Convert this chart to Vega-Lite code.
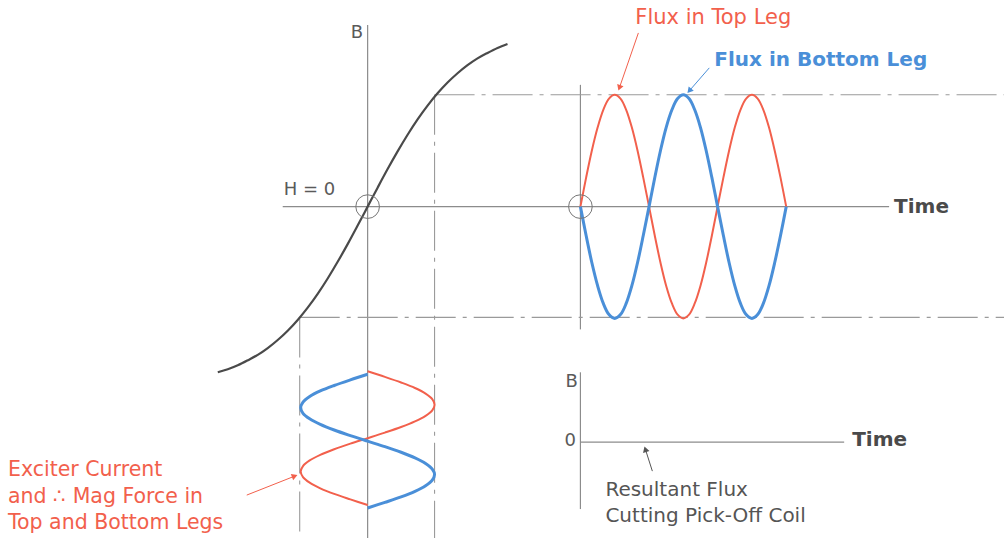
{
  "$schema": "https://vega.github.io/schema/vega-lite/v6.json",
  "width": 1005,
  "height": 539,
  "autosize": {"type": "fit", "contains": "padding"},
  "padding": 0,
  "background": "white",
  "config": {"view": {"stroke": null}},
  "datasets": {
    "segments": [
      {"k": "solid", "x": 368, "y": 25, "x2": 368, "y2": 539},
      {"k": "solid", "x": 283, "y": 207, "x2": 890, "y2": 207},
      {"k": "solid", "x": 581, "y": 85, "x2": 581, "y2": 330},
      {"k": "solid", "x": 581, "y": 373, "x2": 581, "y2": 510},
      {"k": "solid", "x": 581, "y": 443, "x2": 845, "y2": 443},
      {"k": "dash", "x": 435, "y": 95, "x2": 1005, "y2": 95},
      {"k": "dash", "x": 300, "y": 318, "x2": 1005, "y2": 318},
      {"k": "dash", "x": 300, "y": 318, "x2": 300, "y2": 539},
      {"k": "dash", "x": 435, "y": 95, "x2": 435, "y2": 539}
    ],
    "curve": [
      {"x": 218, "y": 373}, {"x": 228, "y": 370}, {"x": 238, "y": 366}, {"x": 248, "y": 361},
      {"x": 258, "y": 355.5}, {"x": 268, "y": 348.7}, {"x": 278, "y": 340.6}, {"x": 288, "y": 331.3},
      {"x": 298, "y": 320.5}, {"x": 308, "y": 308.2}, {"x": 318, "y": 294.4}, {"x": 328, "y": 279},
      {"x": 338, "y": 262.3}, {"x": 348, "y": 244.6}, {"x": 358, "y": 226}, {"x": 368, "y": 207},
      {"x": 378, "y": 188}, {"x": 388, "y": 169.4}, {"x": 398, "y": 151.7}, {"x": 408, "y": 135},
      {"x": 418, "y": 119.6}, {"x": 428, "y": 105.8}, {"x": 438, "y": 93.5}, {"x": 448, "y": 82.7},
      {"x": 458, "y": 73.4}, {"x": 468, "y": 65.3}, {"x": 478, "y": 58.5}, {"x": 488, "y": 53},
      {"x": 498, "y": 48}, {"x": 508, "y": 44}
    ],
    "waves": [
      {"s": "top", "i": 0, "x": 581.0, "y": 207}, {"s": "top", "i": 1, "x": 586.7, "y": 178},
      {"s": "top", "i": 2, "x": 592.4, "y": 151}, {"s": "top", "i": 3, "x": 598.2, "y": 127.8},
      {"s": "top", "i": 4, "x": 603.9, "y": 110}, {"s": "top", "i": 5, "x": 609.6, "y": 98.8},
      {"s": "top", "i": 6, "x": 615.3, "y": 95}, {"s": "top", "i": 7, "x": 621.1, "y": 98.8},
      {"s": "top", "i": 8, "x": 626.8, "y": 110}, {"s": "top", "i": 9, "x": 632.5, "y": 127.8},
      {"s": "top", "i": 10, "x": 638.2, "y": 151}, {"s": "top", "i": 11, "x": 643.9, "y": 178},
      {"s": "top", "i": 12, "x": 649.7, "y": 207}, {"s": "top", "i": 13, "x": 655.4, "y": 236},
      {"s": "top", "i": 14, "x": 661.1, "y": 263}, {"s": "top", "i": 15, "x": 666.8, "y": 286.2},
      {"s": "top", "i": 16, "x": 672.6, "y": 304}, {"s": "top", "i": 17, "x": 678.3, "y": 315.2},
      {"s": "top", "i": 18, "x": 684.0, "y": 319}, {"s": "top", "i": 19, "x": 689.7, "y": 315.2},
      {"s": "top", "i": 20, "x": 695.4, "y": 304}, {"s": "top", "i": 21, "x": 701.2, "y": 286.2},
      {"s": "top", "i": 22, "x": 706.9, "y": 263}, {"s": "top", "i": 23, "x": 712.6, "y": 236},
      {"s": "top", "i": 24, "x": 718.3, "y": 207}, {"s": "top", "i": 25, "x": 724.1, "y": 178},
      {"s": "top", "i": 26, "x": 729.8, "y": 151}, {"s": "top", "i": 27, "x": 735.5, "y": 127.8},
      {"s": "top", "i": 28, "x": 741.2, "y": 110}, {"s": "top", "i": 29, "x": 746.9, "y": 98.8},
      {"s": "top", "i": 30, "x": 752.7, "y": 95}, {"s": "top", "i": 31, "x": 758.4, "y": 98.8},
      {"s": "top", "i": 32, "x": 764.1, "y": 110}, {"s": "top", "i": 33, "x": 769.8, "y": 127.8},
      {"s": "top", "i": 34, "x": 775.5, "y": 151}, {"s": "top", "i": 35, "x": 781.3, "y": 178},
      {"s": "top", "i": 36, "x": 787.0, "y": 207},
      {"s": "bottom", "i": 0, "x": 581.0, "y": 207}, {"s": "bottom", "i": 1, "x": 586.7, "y": 236},
      {"s": "bottom", "i": 2, "x": 592.4, "y": 263}, {"s": "bottom", "i": 3, "x": 598.2, "y": 286.2},
      {"s": "bottom", "i": 4, "x": 603.9, "y": 304}, {"s": "bottom", "i": 5, "x": 609.6, "y": 315.2},
      {"s": "bottom", "i": 6, "x": 615.3, "y": 319}, {"s": "bottom", "i": 7, "x": 621.1, "y": 315.2},
      {"s": "bottom", "i": 8, "x": 626.8, "y": 304}, {"s": "bottom", "i": 9, "x": 632.5, "y": 286.2},
      {"s": "bottom", "i": 10, "x": 638.2, "y": 263}, {"s": "bottom", "i": 11, "x": 643.9, "y": 236},
      {"s": "bottom", "i": 12, "x": 649.7, "y": 207}, {"s": "bottom", "i": 13, "x": 655.4, "y": 178},
      {"s": "bottom", "i": 14, "x": 661.1, "y": 151}, {"s": "bottom", "i": 15, "x": 666.8, "y": 127.8},
      {"s": "bottom", "i": 16, "x": 672.6, "y": 110}, {"s": "bottom", "i": 17, "x": 678.3, "y": 98.8},
      {"s": "bottom", "i": 18, "x": 684.0, "y": 95}, {"s": "bottom", "i": 19, "x": 689.7, "y": 98.8},
      {"s": "bottom", "i": 20, "x": 695.4, "y": 110}, {"s": "bottom", "i": 21, "x": 701.2, "y": 127.8},
      {"s": "bottom", "i": 22, "x": 706.9, "y": 151}, {"s": "bottom", "i": 23, "x": 712.6, "y": 178},
      {"s": "bottom", "i": 24, "x": 718.3, "y": 207}, {"s": "bottom", "i": 25, "x": 724.1, "y": 236},
      {"s": "bottom", "i": 26, "x": 729.8, "y": 263}, {"s": "bottom", "i": 27, "x": 735.5, "y": 286.2},
      {"s": "bottom", "i": 28, "x": 741.2, "y": 304}, {"s": "bottom", "i": 29, "x": 746.9, "y": 315.2},
      {"s": "bottom", "i": 30, "x": 752.7, "y": 319}, {"s": "bottom", "i": 31, "x": 758.4, "y": 315.2},
      {"s": "bottom", "i": 32, "x": 764.1, "y": 304}, {"s": "bottom", "i": 33, "x": 769.8, "y": 286.2},
      {"s": "bottom", "i": 34, "x": 775.5, "y": 263}, {"s": "bottom", "i": 35, "x": 781.3, "y": 236},
      {"s": "bottom", "i": 36, "x": 787.0, "y": 207},
      {"s": "exc_top", "i": 0, "x": 368, "y": 372}, {"s": "exc_top", "i": 1, "x": 385.3, "y": 377.6},
      {"s": "exc_top", "i": 2, "x": 401.5, "y": 383.2}, {"s": "exc_top", "i": 3, "x": 415.4, "y": 388.7},
      {"s": "exc_top", "i": 4, "x": 426, "y": 394.3}, {"s": "exc_top", "i": 5, "x": 432.7, "y": 399.9},
      {"s": "exc_top", "i": 6, "x": 435, "y": 405.5}, {"s": "exc_top", "i": 7, "x": 432.7, "y": 411.1},
      {"s": "exc_top", "i": 8, "x": 426, "y": 416.6}, {"s": "exc_top", "i": 9, "x": 415.4, "y": 422.2},
      {"s": "exc_top", "i": 10, "x": 401.5, "y": 427.8}, {"s": "exc_top", "i": 11, "x": 385.3, "y": 433.4},
      {"s": "exc_top", "i": 12, "x": 368, "y": 439}, {"s": "exc_top", "i": 13, "x": 350.7, "y": 444.5},
      {"s": "exc_top", "i": 14, "x": 334.5, "y": 450.1}, {"s": "exc_top", "i": 15, "x": 320.6, "y": 455.7},
      {"s": "exc_top", "i": 16, "x": 310, "y": 461.3}, {"s": "exc_top", "i": 17, "x": 303.3, "y": 466.9},
      {"s": "exc_top", "i": 18, "x": 301, "y": 472.4}, {"s": "exc_top", "i": 19, "x": 303.3, "y": 478},
      {"s": "exc_top", "i": 20, "x": 310, "y": 483.6}, {"s": "exc_top", "i": 21, "x": 320.6, "y": 489.2},
      {"s": "exc_top", "i": 22, "x": 334.5, "y": 494.8}, {"s": "exc_top", "i": 23, "x": 350.7, "y": 500.3},
      {"s": "exc_top", "i": 24, "x": 368, "y": 505.9},
      {"s": "exc_bot", "i": 0, "x": 368, "y": 375}, {"s": "exc_bot", "i": 1, "x": 350.7, "y": 380.6},
      {"s": "exc_bot", "i": 2, "x": 334.5, "y": 386.2}, {"s": "exc_bot", "i": 3, "x": 320.6, "y": 391.7},
      {"s": "exc_bot", "i": 4, "x": 310, "y": 397.3}, {"s": "exc_bot", "i": 5, "x": 303.3, "y": 402.9},
      {"s": "exc_bot", "i": 6, "x": 301, "y": 408.5}, {"s": "exc_bot", "i": 7, "x": 303.3, "y": 414.1},
      {"s": "exc_bot", "i": 8, "x": 310, "y": 419.6}, {"s": "exc_bot", "i": 9, "x": 320.6, "y": 425.2},
      {"s": "exc_bot", "i": 10, "x": 334.5, "y": 430.8}, {"s": "exc_bot", "i": 11, "x": 350.7, "y": 436.4},
      {"s": "exc_bot", "i": 12, "x": 368, "y": 442}, {"s": "exc_bot", "i": 13, "x": 385.3, "y": 447.5},
      {"s": "exc_bot", "i": 14, "x": 401.5, "y": 453.1}, {"s": "exc_bot", "i": 15, "x": 415.4, "y": 458.7},
      {"s": "exc_bot", "i": 16, "x": 426, "y": 464.3}, {"s": "exc_bot", "i": 17, "x": 432.7, "y": 469.9},
      {"s": "exc_bot", "i": 18, "x": 435, "y": 475.4}, {"s": "exc_bot", "i": 19, "x": 432.7, "y": 481},
      {"s": "exc_bot", "i": 20, "x": 426, "y": 486.6}, {"s": "exc_bot", "i": 21, "x": 415.4, "y": 492.2},
      {"s": "exc_bot", "i": 22, "x": 401.5, "y": 497.8}, {"s": "exc_bot", "i": 23, "x": 385.3, "y": 503.3},
      {"s": "exc_bot", "i": 24, "x": 368, "y": 508.9}
    ],
    "origins": [
      {"x": 368, "y": 207},
      {"x": 581, "y": 207}
    ],
    "arrows": [
      {"g": "top", "x": 639, "y": 33, "x2": 620, "y2": 88, "dir": 199},
      {"g": "bottom", "x": 710, "y": 68, "x2": 690, "y2": 91, "dir": 221},
      {"g": "exc", "x": 247, "y": 496, "x2": 295, "y2": 477, "dir": 69},
      {"g": "res", "x": 653, "y": 472, "x2": 646, "y2": 450, "dir": 342}
    ],
    "labels": [
      {"g": "axis", "t": "B", "x": 351, "y": 33},
      {"g": "axis", "t": "H = 0", "x": 284, "y": 190},
      {"g": "axis", "t": "B", "x": 566, "y": 383},
      {"g": "axis", "t": "0", "x": 565, "y": 442},
      {"g": "time", "t": "Time", "x": 895, "y": 207},
      {"g": "time", "t": "Time", "x": 853, "y": 441},
      {"g": "res", "t": "Resultant Flux", "x": 606, "y": 491},
      {"g": "res", "t": "Cutting Pick-Off Coil", "x": 606, "y": 517},
      {"g": "top", "t": "Flux in Top Leg", "x": 636, "y": 18},
      {"g": "bottom", "t": "Flux in Bottom Leg", "x": 715, "y": 60},
      {"g": "exc", "t": "Exciter Current", "x": 8, "y": 471},
      {"g": "exc", "t": "and ∴ Mag Force in", "x": 8, "y": 498},
      {"g": "exc", "t": "Top and Bottom Legs", "x": 8, "y": 524}
    ]
  },
  "encoding": {
    "x": {"type": "quantitative", "scale": {"domain": [0, 1005], "nice": false, "zero": false}, "axis": null},
    "y": {"type": "quantitative", "scale": {"domain": [0, 539], "nice": false, "zero": false, "reverse": true}, "axis": null}
  },
  "layer": [
    {
      "data": {"name": "segments"},
      "transform": [{"filter": "datum.k === 'solid'"}],
      "mark": {"type": "rule", "stroke": "#8c8c8c", "strokeWidth": 1.2},
      "encoding": {"x": {"field": "x"}, "y": {"field": "y"}, "x2": {"field": "x2"}, "y2": {"field": "y2"}}
    },
    {
      "data": {"name": "segments"},
      "transform": [{"filter": "datum.k === 'dash'"}],
      "mark": {"type": "rule", "stroke": "#9a9a9a", "strokeWidth": 1.1, "strokeDash": [40, 7, 4, 7]},
      "encoding": {"x": {"field": "x"}, "y": {"field": "y"}, "x2": {"field": "x2"}, "y2": {"field": "y2"}}
    },
    {
      "data": {"name": "curve"},
      "mark": {"type": "line", "stroke": "#4a4a4a", "strokeWidth": 2.2, "interpolate": "monotone"},
      "encoding": {"x": {"field": "x"}, "y": {"field": "y"}}
    },
    {
      "data": {"name": "waves"},
      "transform": [{"filter": "datum.s === 'top' || datum.s === 'exc_top'"}],
      "mark": {"type": "line", "stroke": "#f2604c", "strokeWidth": 2, "interpolate": "catmull-rom"},
      "encoding": {"x": {"field": "x"}, "y": {"field": "y"}, "detail": {"field": "s"}, "order": {"field": "i"}}
    },
    {
      "data": {"name": "waves"},
      "transform": [{"filter": "datum.s === 'bottom' || datum.s === 'exc_bot'"}],
      "mark": {"type": "line", "stroke": "#4a8fd8", "strokeWidth": 3, "interpolate": "catmull-rom"},
      "encoding": {"x": {"field": "x"}, "y": {"field": "y"}, "detail": {"field": "s"}, "order": {"field": "i"}}
    },
    {
      "data": {"name": "origins"},
      "mark": {"type": "point", "shape": "circle", "filled": false, "stroke": "#777777", "strokeWidth": 1, "size": 560, "opacity": 1},
      "encoding": {"x": {"field": "x"}, "y": {"field": "y"}}
    },
    {
      "data": {"name": "arrows"},
      "mark": {"type": "rule", "strokeWidth": 1},
      "encoding": {
        "x": {"field": "x"}, "y": {"field": "y"}, "x2": {"field": "x2"}, "y2": {"field": "y2"},
        "color": {"field": "g", "type": "nominal", "scale": {"domain": ["top", "bottom", "exc", "res"], "range": ["#f2604c", "#4a8fd8", "#f2604c", "#555555"]}, "legend": null}
      }
    },
    {
      "data": {"name": "arrows"},
      "mark": {"type": "point", "shape": "triangle-up", "filled": true, "size": 45, "opacity": 1},
      "encoding": {
        "x": {"field": "x2"}, "y": {"field": "y2"},
        "angle": {"field": "dir", "type": "quantitative", "scale": {"domain": [0, 360], "range": [0, 360]}},
        "color": {"field": "g", "type": "nominal", "scale": {"domain": ["top", "bottom", "exc", "res"], "range": ["#f2604c", "#4a8fd8", "#f2604c", "#555555"]}, "legend": null}
      }
    },
    {
      "data": {"name": "labels"},
      "transform": [{"filter": "datum.g === 'axis'"}],
      "mark": {"type": "text", "align": "left", "baseline": "middle", "font": "DejaVu Sans", "fontSize": 18, "fill": "#5a5a5a"},
      "encoding": {"x": {"field": "x"}, "y": {"field": "y"}, "text": {"field": "t"}}
    },
    {
      "data": {"name": "labels"},
      "transform": [{"filter": "datum.g === 'time'"}],
      "mark": {"type": "text", "align": "left", "baseline": "middle", "font": "DejaVu Sans", "fontSize": 20, "fontWeight": "bold", "fill": "#4a4a4a"},
      "encoding": {"x": {"field": "x"}, "y": {"field": "y"}, "text": {"field": "t"}}
    },
    {
      "data": {"name": "labels"},
      "transform": [{"filter": "datum.g === 'res'"}],
      "mark": {"type": "text", "align": "left", "baseline": "middle", "font": "DejaVu Sans", "fontSize": 20, "fill": "#555555"},
      "encoding": {"x": {"field": "x"}, "y": {"field": "y"}, "text": {"field": "t"}}
    },
    {
      "data": {"name": "labels"},
      "transform": [{"filter": "datum.g === 'top'"}],
      "mark": {"type": "text", "align": "left", "baseline": "middle", "font": "DejaVu Sans", "fontSize": 21, "fill": "#f2604c"},
      "encoding": {"x": {"field": "x"}, "y": {"field": "y"}, "text": {"field": "t"}}
    },
    {
      "data": {"name": "labels"},
      "transform": [{"filter": "datum.g === 'exc'"}],
      "mark": {"type": "text", "align": "left", "baseline": "middle", "font": "DejaVu Sans", "fontSize": 20.5, "fill": "#f2604c"},
      "encoding": {"x": {"field": "x"}, "y": {"field": "y"}, "text": {"field": "t"}}
    },
    {
      "data": {"name": "labels"},
      "transform": [{"filter": "datum.g === 'bottom'"}],
      "mark": {"type": "text", "align": "left", "baseline": "middle", "font": "DejaVu Sans", "fontSize": 20, "fontWeight": "bold", "fill": "#4a8fd8"},
      "encoding": {"x": {"field": "x"}, "y": {"field": "y"}, "text": {"field": "t"}}
    }
  ]
}
